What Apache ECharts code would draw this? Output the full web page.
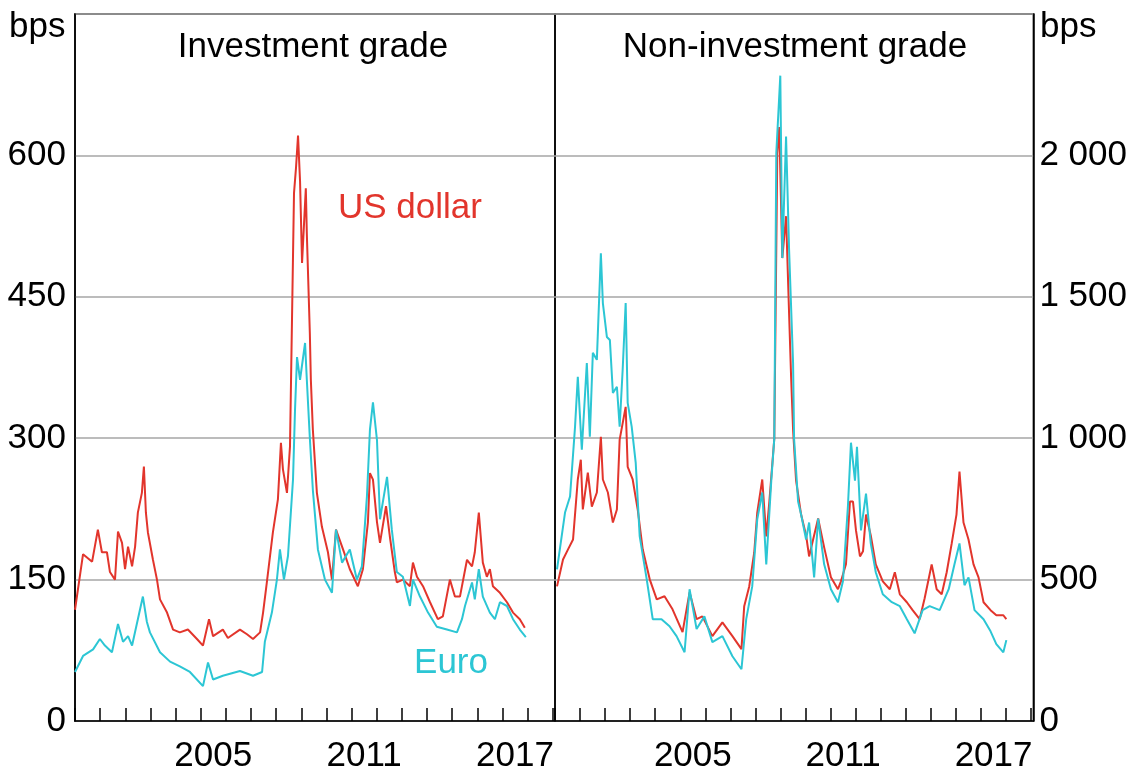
<!DOCTYPE html>
<html>
<head>
<meta charset="UTF-8">
<title>spreads</title>
<script src="https://cdn.jsdelivr.net/npm/echarts@6/dist/echarts.min.js"></script>
<style>
  html, body { margin: 0; padding: 0; background: #fff; }
  #chart { width: 1130px; height: 774px; }
</style>
</head>
<body>
<div id="chart"></div>
<script>
// investment grade, US dollar (bps)
var igUsdYears = [2000.00, 2000.32, 2000.68, 2000.91, 2001.07, 2001.27, 2001.39, 2001.59, 2001.71, 2001.87,
  2001.99, 2002.11, 2002.27, 2002.39, 2002.50, 2002.66, 2002.74, 2002.82, 2002.90, 2003.10,
  2003.26, 2003.38, 2003.66, 2003.90, 2004.17, 2004.49, 2004.85, 2005.09, 2005.33, 2005.49,
  2005.88, 2006.08, 2006.56, 2006.84, 2007.08, 2007.36, 2007.48, 2007.63, 2007.87, 2008.07,
  2008.19, 2008.27, 2008.43, 2008.55, 2008.71, 2008.79, 2008.87, 2008.95, 2009.03, 2009.18,
  2009.22, 2009.34, 2009.38, 2009.46, 2009.62, 2009.82, 2010.06, 2010.22, 2010.38, 2010.66,
  2010.93, 2011.25, 2011.45, 2011.65, 2011.73, 2011.85, 2012.01, 2012.13, 2012.37, 2012.52,
  2012.72, 2012.80, 2013.04, 2013.32, 2013.44, 2013.60, 2013.84, 2014.12, 2014.43, 2014.63,
  2014.91, 2015.11, 2015.31, 2015.59, 2015.79, 2015.90, 2016.06, 2016.22, 2016.38, 2016.50,
  2016.62, 2016.90, 2017.18, 2017.42, 2017.69, 2017.89];
var igUsd = [118, 177, 169, 203, 179, 179, 158, 150, 201, 189,
  161, 185, 164, 185, 221, 242, 270, 221, 200, 171,
  150, 129, 115, 97, 94, 97, 87, 80, 108, 90,
  97, 88, 97, 92, 87, 94, 115, 147, 200, 235,
  295, 267, 242, 291, 560, 587, 621, 573, 486, 565,
  517, 411, 362, 309, 242, 206, 179, 150, 203, 182,
  161, 143, 161, 211, 263, 256, 211, 189, 228, 196,
  158, 147, 150, 143, 168, 153, 143, 126, 108, 111,
  150, 132, 132, 171, 164, 179, 221, 168, 153, 161,
  143, 136, 126, 115, 108, 99];

// investment grade, euro (bps)
var igEurYears = [2000.00, 2000.32, 2000.72, 2000.99, 2001.19, 2001.47, 2001.71, 2001.91, 2002.11, 2002.27,
  2002.50, 2002.70, 2002.86, 2002.98, 2003.38, 2003.78, 2004.17, 2004.57, 2005.09, 2005.29,
  2005.49, 2005.88, 2006.56, 2007.08, 2007.44, 2007.55, 2007.83, 2008.03, 2008.15, 2008.31,
  2008.47, 2008.67, 2008.75, 2008.83, 2008.95, 2009.15, 2009.22, 2009.34, 2009.46, 2009.66,
  2009.94, 2010.22, 2010.38, 2010.62, 2010.93, 2011.21, 2011.41, 2011.61, 2011.73, 2011.85,
  2012.01, 2012.13, 2012.41, 2012.60, 2012.80, 2013.04, 2013.32, 2013.44, 2013.72, 2014.04,
  2014.39, 2014.79, 2015.19, 2015.39, 2015.51, 2015.79, 2015.90, 2016.06, 2016.22, 2016.50,
  2016.70, 2016.90, 2017.18, 2017.42, 2017.69, 2017.93];
var igEur = [52, 69, 76, 87, 80, 73, 103, 84, 90, 80,
  108, 132, 105, 94, 73, 63, 58, 52, 37, 62,
  44, 48, 53, 48, 52, 84, 115, 150, 182, 150,
  175, 256, 330, 386, 362, 401, 362, 300, 245, 182,
  150, 136, 203, 168, 182, 150, 164, 238, 309, 338,
  298, 214, 259, 203, 158, 153, 122, 150, 132, 115,
  100, 97, 94, 108, 122, 147, 129, 161, 132, 115,
  108, 126, 122, 108, 97, 89];

// non-investment grade, US dollar (bps)
var hyUsdYears = [2000.08, 2000.32, 2000.52, 2000.72, 2000.91, 2001.03, 2001.11, 2001.31, 2001.47, 2001.67,
  2001.83, 2001.91, 2002.11, 2002.31, 2002.47, 2002.58, 2002.82, 2002.90, 2003.10, 2003.30,
  2003.50, 2003.78, 2004.06, 2004.37, 2004.69, 2005.09, 2005.37, 2005.65, 2005.88, 2006.28,
  2006.68, 2007.08, 2007.44, 2007.55, 2007.75, 2007.95, 2008.07, 2008.27, 2008.43, 2008.55,
  2008.75, 2008.87, 2008.95, 2009.07, 2009.22, 2009.34, 2009.42, 2009.50, 2009.62, 2009.82,
  2010.02, 2010.14, 2010.30, 2010.50, 2010.74, 2011.01, 2011.29, 2011.41, 2011.61, 2011.77,
  2011.89, 2012.01, 2012.17, 2012.29, 2012.41, 2012.60, 2012.80, 2013.08, 2013.36, 2013.56,
  2013.76, 2014.04, 2014.27, 2014.55, 2014.75, 2015.03, 2015.23, 2015.43, 2015.63, 2015.83,
  2016.02, 2016.14, 2016.30, 2016.50, 2016.70, 2016.90, 2017.10, 2017.38, 2017.61, 2017.89,
  2018.01];
var hyUsd = [476, 571, 607, 642, 854, 924, 748, 878, 758, 808,
  1005, 854, 808, 702, 748, 995, 1111, 899, 854, 748,
  607, 501, 430, 441, 395, 314, 455, 360, 370, 300,
  349, 300, 254, 406, 476, 596, 737, 854, 653, 772,
  998, 2007, 2100, 1637, 1785, 1443, 1220, 1030, 850, 730,
  656, 582, 642, 716, 614, 508, 466, 494, 554, 776,
  776, 674, 582, 600, 730, 656, 554, 494, 466, 526,
  448, 420, 392, 360, 434, 554, 466, 448, 526, 628,
  730, 882, 702, 642, 554, 508, 420, 392, 374, 374,
  360];

// non-investment grade, euro (bps)
var hyEurYears = [2000.08, 2000.40, 2000.60, 2000.80, 2000.91, 2001.07, 2001.27, 2001.39, 2001.51, 2001.67,
  2001.83, 2001.91, 2002.07, 2002.19, 2002.31, 2002.47, 2002.58, 2002.70, 2002.82, 2002.90,
  2003.06, 2003.22, 2003.38, 2003.66, 2003.90, 2004.25, 2004.57, 2004.85, 2005.17, 2005.37,
  2005.65, 2005.96, 2006.28, 2006.68, 2007.08, 2007.44, 2007.63, 2007.87, 2008.07, 2008.27,
  2008.43, 2008.63, 2008.75, 2008.83, 2008.99, 2009.07, 2009.22, 2009.34, 2009.50, 2009.54,
  2009.70, 2009.82, 2010.02, 2010.14, 2010.34, 2010.50, 2010.74, 2011.01, 2011.29, 2011.49,
  2011.69, 2011.81, 2011.97, 2012.05, 2012.21, 2012.41, 2012.60, 2012.80, 2013.08, 2013.44,
  2013.76, 2014.04, 2014.35, 2014.67, 2014.95, 2015.35, 2015.71, 2015.94, 2016.14, 2016.34,
  2016.50, 2016.74, 2017.10, 2017.38, 2017.61, 2017.89, 2018.01];
var hyEur = [536, 737, 794, 1041, 1217, 959, 1266, 1005, 1302, 1277,
  1654, 1478, 1358, 1347, 1160, 1182, 1041, 1242, 1478, 1125,
  1041, 914, 653, 501, 360, 360, 335, 300, 243, 466,
  325, 370, 279, 300, 229, 183, 360, 476, 713, 808,
  554, 850, 998, 2007, 2282, 1637, 2067, 1668, 1266, 998,
  776, 730, 642, 702, 508, 716, 554, 466, 420, 494,
  762, 984, 850, 970, 674, 804, 628, 526, 448, 420,
  406, 360, 310, 392, 406, 392, 466, 554, 628, 480,
  508, 392, 360, 317, 272, 243, 286];

var yearTicks = [2000, 2001, 2002, 2003, 2004, 2005, 2006, 2007, 2008, 2009,
  2010, 2011, 2012, 2013, 2014, 2015, 2016, 2017, 2018, 2019];
var yearLabels = [2005, 2011, 2017];

var RED = '#e2352c';
var CYAN = '#2cc6d4';
var FONT = 'Liberation Sans, Arial, sans-serif';
var FS = 35;

function pairs(xs, ys) {
  var out = [];
  for (var i = 0; i < xs.length; i++) out.push([xs[i], ys[i]]);
  return out;
}

// labels sit in the middle of each year
var labelPos = yearLabels.map(function (y) { return y + 0.5; });

function xAxisFor(idx) {
  return {
    type: 'value',
    gridIndex: idx,
    min: 2000,
    max: 2019.09,
    axisLine: { show: true, lineStyle: { color: '#000', width: 1.5 } },
    axisTick: { show: true, inside: true, length: 13, customValues: yearTicks, lineStyle: { color: '#000', width: 1.5 } },
    axisLabel: {
      show: true, customValues: labelPos, margin: 18,
      color: '#000', fontFamily: FONT, fontSize: FS,
      formatter: function (v) { return String(Math.floor(v)); }
    },
    splitLine: { show: false }
  };
}

var chart = echarts.init(document.getElementById('chart'));
var option = {
  animation: false,
  backgroundColor: '#fff',
  grid: [
    { left: 75, top: 14, width: 480, height: 708, show: true, borderColor: '#000', borderWidth: 1.5 },
    { left: 555, top: 14, width: 480, height: 708, show: true, borderColor: '#000', borderWidth: 1.5 }
  ],
  xAxis: [xAxisFor(0), xAxisFor(1)],
  yAxis: [
    {
      type: 'value', gridIndex: 0, min: 0, max: 750, interval: 150,
      axisLine: { show: true, lineStyle: { color: '#000', width: 1.5 } },
      axisTick: { show: false },
      axisLabel: {
        color: '#000', fontFamily: FONT, fontSize: FS, margin: 9,
        formatter: function (v) { return v === 750 ? '' : String(v); }
      },
      splitLine: { lineStyle: { color: '#a6a6a6', width: 1.5 } }
    },
    {
      type: 'value', gridIndex: 1, position: 'right', min: 0, max: 2500, interval: 500,
      axisLine: { show: true, lineStyle: { color: '#000', width: 1.5 } },
      axisTick: { show: false },
      axisLabel: {
        color: '#000', fontFamily: FONT, fontSize: FS, margin: 6,
        formatter: function (v) {
          if (v === 2500) return '';
          return v >= 1000 ? Math.floor(v / 1000) + ' ' + String(v % 1000).padStart(3, '0') : String(v);
        }
      },
      splitLine: { lineStyle: { color: '#a6a6a6', width: 1.5 } }
    }
  ],
  graphic: [
    { type: 'text', left: 9, top: 10, style: { text: 'bps', font: FS + 'px ' + FONT, fill: '#000' } },
    { type: 'text', left: 1040, top: 10, style: { text: 'bps', font: FS + 'px ' + FONT, fill: '#000' } },
    { type: 'text', x: 313, y: 47, style: { text: 'Investment grade', font: FS + 'px ' + FONT, fill: '#000', align: 'center', verticalAlign: 'middle' } },
    { type: 'text', x: 795, y: 47, style: { text: 'Non-investment grade', font: FS + 'px ' + FONT, fill: '#000', align: 'center', verticalAlign: 'middle' } },
    { type: 'text', x: 410, y: 208, style: { text: 'US dollar', font: FS + 'px ' + FONT, fill: RED, align: 'center', verticalAlign: 'middle' } },
    { type: 'text', x: 451, y: 663, style: { text: 'Euro', font: FS + 'px ' + FONT, fill: CYAN, align: 'center', verticalAlign: 'middle' } }
  ],
  series: [
    { name: 'IG US dollar', type: 'line', xAxisIndex: 0, yAxisIndex: 0, showSymbol: false, data: pairs(igUsdYears, igUsd), lineStyle: { color: RED, width: 2 }, itemStyle: { color: RED } },
    { name: 'IG Euro', type: 'line', xAxisIndex: 0, yAxisIndex: 0, showSymbol: false, data: pairs(igEurYears, igEur), lineStyle: { color: CYAN, width: 2 }, itemStyle: { color: CYAN } },
    { name: 'HY US dollar', type: 'line', xAxisIndex: 1, yAxisIndex: 1, showSymbol: false, data: pairs(hyUsdYears, hyUsd), lineStyle: { color: RED, width: 2 }, itemStyle: { color: RED } },
    { name: 'HY Euro', type: 'line', xAxisIndex: 1, yAxisIndex: 1, showSymbol: false, data: pairs(hyEurYears, hyEur), lineStyle: { color: CYAN, width: 2 }, itemStyle: { color: CYAN } }
  ]
};
chart.setOption(option);
</script>
</body>
</html>
